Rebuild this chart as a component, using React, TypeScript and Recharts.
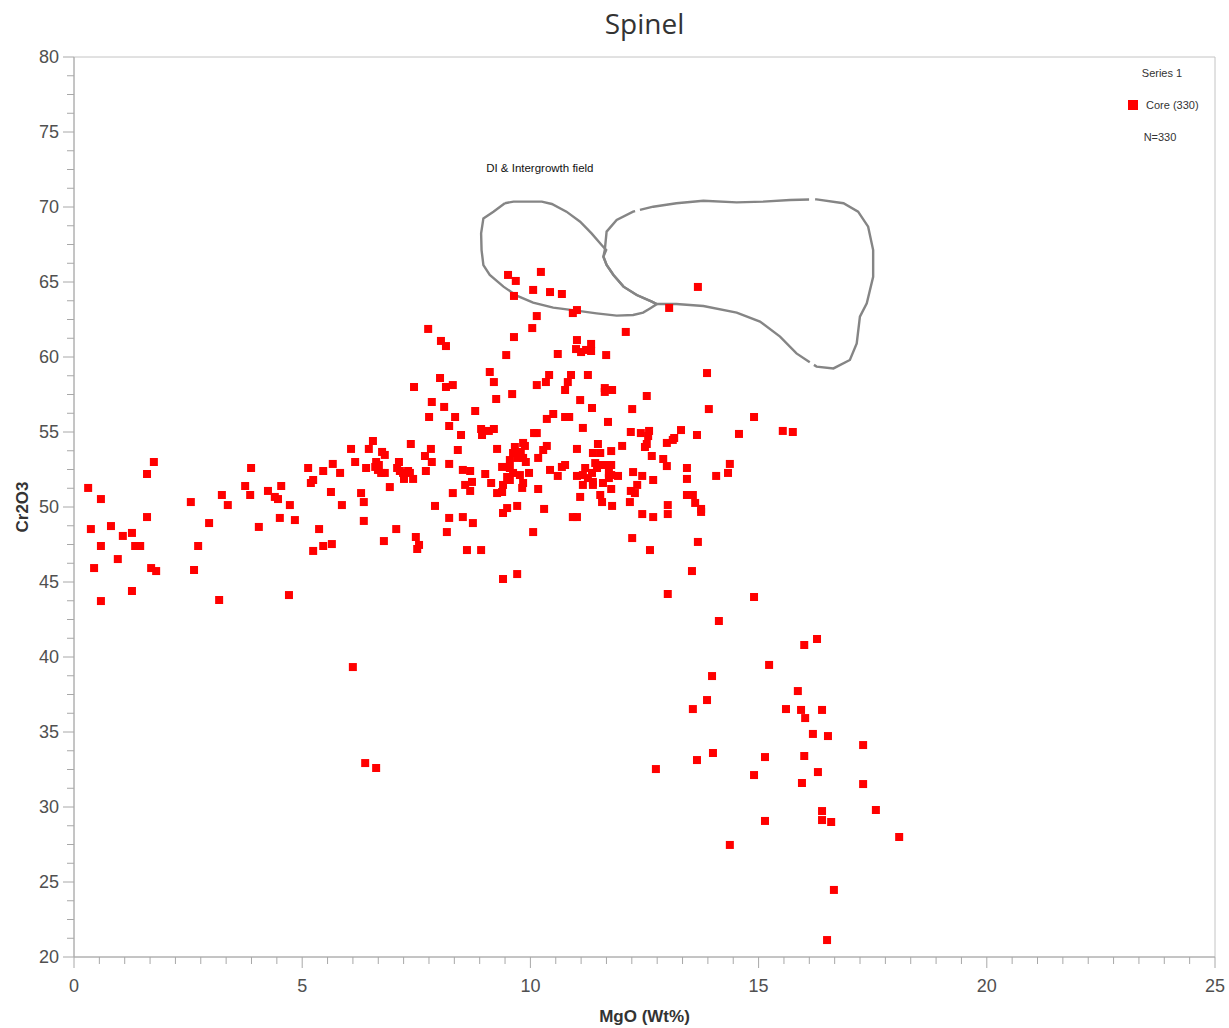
import React from "react"
import { ScatterChart, Scatter, XAxis, YAxis, ReferenceArea, ReferenceDot, Label } from "recharts"

// Core analyses (330 total, overlapping points merged)
const mgo = [
  0.31, 0.37, 0.44, 0.59, 0.59, 0.59, 0.81, 0.96, 1.07, 1.27,
  1.27, 1.34, 1.45, 1.6, 1.6, 1.69, 1.75, 1.8, 2.56, 2.63,
  2.72, 2.96, 3.18, 3.24, 3.37, 3.75, 3.86, 3.88, 4.05, 4.25,
  4.4, 4.47, 4.51, 4.54, 4.71, 4.73, 4.84, 5.13, 5.19, 5.24,
  5.24, 5.37, 5.46, 5.46, 5.63, 5.65, 5.67, 5.83, 5.87, 6.07,
  6.16, 6.29, 6.35, 6.35, 6.4, 6.46, 6.55, 6.6, 6.62, 6.66,
  6.68, 6.73, 6.75, 6.79, 6.81, 6.81, 6.92, 7.06, 7.08, 7.12,
  7.14, 7.21, 7.23, 7.32, 7.36, 7.38, 7.43, 7.45, 7.49, 7.52,
  7.56, 7.69, 7.71, 7.76, 7.78, 7.82, 7.84, 7.84, 7.91, 8.02,
  8.04, 8.11, 8.15, 8.15, 8.17, 8.22, 8.22, 8.22, 8.3, 8.3,
  8.35, 8.41, 8.48, 8.52, 8.52, 8.57, 8.61, 8.68, 8.68, 8.72,
  8.74, 8.79, 8.92, 8.92, 8.94, 9.01, 9.09, 9.11, 9.14, 9.2,
  9.2, 9.25, 9.27, 9.27, 9.51, 9.68, 10.23, 10.06, 10.43, 10.69,
  9.64, 11.02, 10.93, 10.14, 10.04, 9.64, 11.02, 11.33, 11.0, 11.11,
  11.22, 11.33, 10.6, 11.66, 9.47, 10.41, 10.34, 10.14, 10.89, 10.82,
  10.76, 11.26, 11.63, 11.79, 11.63, 9.6, 11.09, 11.35, 10.5, 10.36,
  10.76, 10.85, 11.7, 11.15, 10.08, 10.14, 9.66, 9.84, 9.88, 9.62,
  9.79, 9.71, 9.84, 9.9, 9.55, 9.38, 9.55, 9.62, 9.49, 9.55,
  9.4, 9.38, 9.77, 9.84, 9.82, 9.97, 10.17, 10.28, 10.36, 10.17,
  10.43, 10.6, 10.69, 10.76, 11.02, 11.48, 11.37, 11.53, 11.77,
  12.01, 11.42, 11.2, 11.35, 11.46, 11.57, 11.7, 11.02, 11.15, 11.26,
  11.37, 11.15, 11.37, 11.59, 11.72, 11.72, 11.92, 11.77, 11.09, 11.53,
  11.57, 11.79, 9.49, 9.4, 9.71, 10.3, 10.93, 11.02, 10.06, 9.4,
  9.71, 13.67, 13.04, 12.09, 13.87, 12.55, 12.23, 13.91, 14.9, 15.53,
  15.75, 12.2, 12.42, 12.6, 12.58, 13.3, 13.15, 12.99, 13.65, 14.57,
  12.55, 12.51, 12.66, 12.91, 13.12, 12.99, 13.43, 13.43, 14.37, 14.33,
  14.07, 11.77, 11.77, 12.25, 12.45, 12.69, 12.34, 12.2, 12.29, 12.18,
  13.01, 13.01, 13.43, 13.56, 13.61, 13.74, 13.74, 12.45, 12.69, 12.23,
  12.62, 13.67, 13.54, 13.01, 14.9, 14.13, 16.28, 16.0, 15.23, 13.98,
  15.86, 13.87, 13.56, 15.6, 15.93, 16.02, 16.39, 16.19, 16.52, 17.29,
  14.0, 13.65, 12.75, 15.14, 16.0, 14.9, 16.3, 15.95, 17.29, 16.39,
  16.39, 16.59, 17.57, 15.14, 14.37, 18.08, 16.65, 16.5, 6.11, 6.38, 6.62,
]

const cr2o3 = [
  51.27, 48.53, 45.93, 50.53, 47.4, 43.73, 48.73, 46.53, 48.07, 48.27,
  44.4, 47.4, 47.4, 52.2, 49.33, 45.93, 53.0, 45.73, 50.33, 45.8,
  47.4, 48.93, 43.8, 50.8, 50.13, 51.4, 50.8, 52.6, 48.67, 51.07,
  50.67, 50.53, 49.27, 51.4, 44.13, 50.13, 49.13, 52.6, 51.6, 51.8,
  47.07, 48.53, 52.4, 47.4, 51.0, 47.53, 52.87, 52.27, 50.13, 53.87,
  53.0, 50.93, 50.33, 49.07, 52.6, 53.87, 54.4, 52.67, 53.0, 52.47,
  52.8, 52.27, 53.67, 47.73, 53.47, 52.27, 51.33, 48.53, 52.6, 53.0,
  52.4, 52.27, 51.87, 52.4, 52.27, 54.2, 51.87, 58.0, 48.0, 47.2,
  47.47, 53.4, 52.4, 61.87, 56.0, 53.87, 57.0, 53.0, 50.07, 58.6,
  61.07, 56.67, 60.73, 58.0, 48.33, 55.4, 52.87, 49.27, 58.13, 50.93,
  56.0, 53.8, 54.8, 52.47, 49.33, 51.47, 47.13, 52.4, 51.07, 51.67,
  48.93, 56.4, 55.2, 47.13, 54.8, 52.2, 55.07, 59.0, 51.6, 58.33,
  55.2, 57.2, 53.87, 50.93, 65.47, 65.07, 65.67, 64.47, 64.33, 64.2,
  64.07, 63.13, 62.93, 62.73, 61.93, 61.33, 61.13, 60.87, 60.53, 60.33,
  60.47, 60.4, 60.2, 60.13, 60.13, 58.8, 58.33, 58.13, 58.8, 58.33,
  57.8, 58.8, 57.93, 57.8, 57.67, 57.53, 57.13, 56.6, 56.2, 55.87,
  56.0, 56.0, 55.67, 55.27, 54.93, 54.93, 54.0, 54.27, 54.07, 53.6,
  53.67, 53.27, 53.27, 53.0, 53.13, 52.67, 52.6, 52.27, 52.0, 51.8,
  51.47, 51.0, 52.13, 51.6, 51.27, 52.27, 53.27, 53.8, 54.07, 51.2,
  52.47, 52.07, 52.67, 52.8, 53.87, 54.2, 53.6, 53.6, 53.73,
  54.07, 52.93, 52.6, 52.27, 52.6, 52.8, 52.8, 52.07, 52.13, 51.93,
  51.67, 51.47, 51.47, 51.6, 52.27, 51.93, 52.07, 51.2, 50.67, 50.8,
  50.33, 50.07, 49.93, 49.6, 50.07, 49.87, 49.33, 49.33, 48.33, 45.2,
  45.53, 64.67, 63.27, 61.67, 58.93, 57.4, 56.53, 56.53, 56.0, 55.07,
  55.0, 55.0, 54.93, 55.07, 54.73, 55.13, 54.6, 54.27, 54.8, 54.87,
  54.2, 54.0, 53.4, 53.2, 54.47, 52.73, 52.6, 51.87, 52.87, 52.27,
  52.07, 52.8, 52.13, 52.33, 52.07, 51.8, 51.47, 51.07, 50.93, 50.33,
  50.13, 49.53, 50.8, 50.8, 50.27, 49.87, 49.67, 49.53, 49.33, 47.93,
  47.13, 47.67, 45.73, 44.2, 44.0, 42.4, 41.2, 40.8, 39.47, 38.73,
  37.73, 37.13, 36.53, 36.53, 36.47, 35.93, 36.47, 34.87, 34.73, 34.13,
  33.6, 33.13, 32.53, 33.33, 33.4, 32.13, 32.33, 31.6, 31.53, 29.73,
  29.13, 29.0, 29.8, 29.07, 27.47, 28.0, 24.47, 21.13, 39.33, 32.93, 32.6,
]

// DI & intergrowth field outlines
const fieldAMgO = [
  9.44, 9.63, 10.25, 10.47, 10.79, 11.09, 11.34, 11.56, 11.66, 11.6, 11.67,
  11.82, 12.04, 12.33, 12.66, 12.77, 12.62, 12.47, 12.25, 11.89, 11.45, 11.01,
  10.5, 10.06, 9.7, 9.41, 9.11, 8.97, 8.93, 8.92, 8.97, 9.19, 9.44,
]
const fieldACr = [
  70.25, 70.36, 70.36, 70.2, 69.69, 69.02, 68.24, 67.47, 67.13, 66.69, 66.13,
  65.47, 64.69, 64.13, 63.69, 63.53, 63.24, 62.96, 62.8, 62.76, 62.91, 63.09,
  63.29, 63.62, 64.09, 64.69, 65.47, 66.13, 67.13, 68.24, 69.24, 69.69, 70.25,
]
const fieldBMgO = [
  12.77, 13.2, 13.79, 14.52, 15.03, 15.47, 15.83, 16.27, 16.64, 17.0, 17.15,
  17.22, 17.37, 17.51, 17.51, 17.4, 17.18, 16.86, 16.27, 15.69, 15.1, 14.52,
  13.79, 13.2, 12.69, 12.25, 11.89, 11.67, 11.63, 11.6, 11.67, 11.82, 12.04,
  12.33, 12.66, 12.77,
]
const fieldBCr = [
  63.53, 63.53, 63.4, 62.96, 62.36, 61.36, 60.24, 59.36, 59.24, 59.8, 60.91,
  62.69, 63.58, 65.35, 67.13, 68.69, 69.69, 70.25, 70.51, 70.47, 70.36, 70.31,
  70.42, 70.25, 70.02, 69.69, 69.13, 68.36, 67.13, 66.69, 66.13, 65.47, 64.69,
  64.13, 63.69, 63.53,
]

const xTicks: number[] = []
for (let i = 0; i <= 45; i++) xTicks.push((i * 5) / 9)
const yTicks: number[] = []
for (let i = 0; i <= 48; i++) yTicks.push(20 + i * 1.25)

const fieldLabel = { x: 9.03, y: 72.6, text: "DI & Intergrowth field" }

const core = mgo.map((x, i) => ({ x, y: cr2o3[i] }))
const fieldA = fieldAMgO.map((x, i) => ({ x, y: fieldACr[i] }))
const fieldB = fieldBMgO.map((x, i) => ({ x, y: fieldBCr[i] }))

const AXIS = "#a8a8a8"
const TICK_TEXT = "#505050"
const FIELD = "#858585"
const FONT = "'Liberation Sans', Arial, sans-serif"

const isMajor = (v: number) => Math.abs(v / 5 - Math.round(v / 5)) < 1e-6

function XTick({ x, y, payload }: any) {
  const major = isMajor(payload.value)
  return (
    <g>
      <line x1={x} x2={x} y1={y} y2={y + (major ? 11 : 7)} stroke={AXIS} />
      {major && (
        <text x={x} y={y + 35} textAnchor="middle" fontSize={18} fill={TICK_TEXT} fontFamily={FONT}>
          {Math.round(payload.value)}
        </text>
      )}
    </g>
  )
}

function YTick({ x, y, payload }: any) {
  const major = isMajor(payload.value)
  return (
    <g>
      <line x1={x - (major ? 11 : 7)} x2={x} y1={y} y2={y} stroke={AXIS} />
      {major && (
        <text x={x - 15} y={y} dy="0.35em" textAnchor="end" fontSize={18} fill={TICK_TEXT} fontFamily={FONT}>
          {Math.round(payload.value)}
        </text>
      )}
    </g>
  )
}

const square = (props: any) => (
  <rect x={props.cx - 4} y={props.cy - 4} width={8} height={8} fill="#ff0000" />
)
const noDot = () => <g />

export default function App() {
  return (
    <div style={{ position: "absolute", left: 0, top: 0, width: 1229, height: 1028, background: "#fff", fontFamily: FONT }}>
      <div style={{ position: "absolute", left: 0, width: 1289, top: 4, textAlign: "center", fontSize: 28, color: "#333", fontFamily: "'Open Sans', sans-serif" }}>
        Spinel
      </div>
      <ScatterChart width={1229} height={1028} margin={{ top: 57, right: 14, bottom: 0, left: 0 }}>
        <ReferenceArea x1={0} x2={25} y1={20} y2={80} fill="none" stroke="#c4c4c4" ifOverflow="visible" />
        <XAxis
          type="number"
          dataKey="x"
          domain={[0, 25]}
          ticks={xTicks}
          interval={0}
          height={71}
          tickSize={0}
          tickMargin={0}
          tickLine={false}
          tick={<XTick />}
          axisLine={{ stroke: AXIS }}
          allowDataOverflow
        >
          <Label
            content={({ viewBox }: any) => (
              <text x={viewBox.x + viewBox.width / 2} y={viewBox.y + 65} textAnchor="middle" fontSize={17} fontWeight="bold" fill="#333" fontFamily={FONT}>
                MgO (Wt%)
              </text>
            )}
          />
        </XAxis>
        <YAxis
          type="number"
          dataKey="y"
          domain={[20, 80]}
          ticks={yTicks}
          interval={0}
          width={74}
          tickSize={0}
          tickMargin={0}
          tickLine={false}
          tick={<YTick />}
          axisLine={{ stroke: AXIS }}
          allowDataOverflow
        >
          <Label
            content={({ viewBox }: any) => {
              const cy = viewBox.y + viewBox.height / 2
              return (
                <text x={22} y={cy} transform={`rotate(-90, 22, ${cy})`} textAnchor="middle" dy="0.35em" fontSize={17} fontWeight="bold" fill="#333" fontFamily={FONT}>
                  Cr2O3
                </text>
              )
            }}
          />
        </YAxis>
        <Scatter data={fieldA} line={{ stroke: FIELD, strokeWidth: 2.4 }} lineType="joint" shape={noDot} isAnimationActive={false} />
        <Scatter data={fieldB} line={{ stroke: FIELD, strokeWidth: 2.4, strokeDasharray: "170 5 240 6" }} lineType="joint" shape={noDot} isAnimationActive={false} />
        <ReferenceDot
          x={fieldLabel.x}
          y={fieldLabel.y}
          r={0}
          fill="none"
          stroke="none"
          label={{ value: fieldLabel.text, position: "right", offset: 0, fontSize: 11.5, fill: "#111", fontFamily: FONT }}
        />
        <Scatter name="Core (330)" data={core} shape={square} isAnimationActive={false} />
      </ScatterChart>
      <div style={{ position: "absolute", left: 1122, top: 66, width: 80, fontSize: 11, color: "#333", lineHeight: "14px" }}>
        <div style={{ textAlign: "center" }}>Series 1</div>
        <div style={{ display: "flex", alignItems: "center", marginTop: 18, marginLeft: 6 }}>
          <span style={{ display: "inline-block", width: 10, height: 10, background: "#ff0000", marginRight: 8 }} />
          <span>Core (330)</span>
        </div>
        <div style={{ textAlign: "center", marginTop: 18, marginLeft: -4 }}>N=330</div>
      </div>
    </div>
  )
}
